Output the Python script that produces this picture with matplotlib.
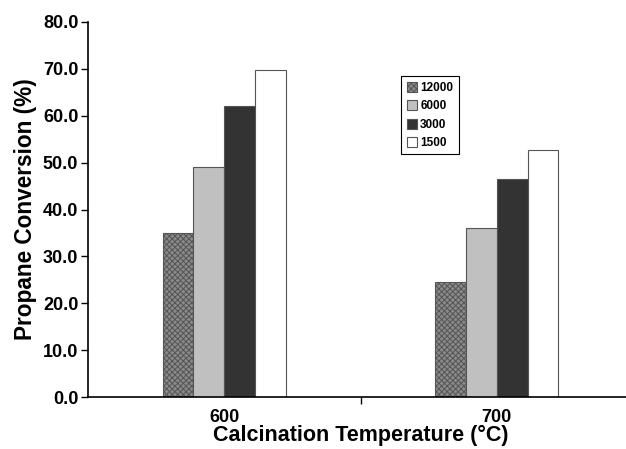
import numpy as np
import matplotlib.pyplot as plt

plt.rcParams['font.family'] = ['Liberation Sans', 'DejaVu Sans']
plt.rcParams['hatch.linewidth'] = 0.7

temps = ["600", "700"]
series = ["12000", "6000", "3000", "1500"]
conv_12000 = [35.0, 24.5]
conv_6000 = [49.0, 36.0]
conv_3000 = [62.0, 46.6]
conv_1500 = [69.7, 52.7]

values = [conv_12000, conv_6000, conv_3000, conv_1500]
faces = ["#8a8a8a", "#c0c0c0", "#333333", "#ffffff"]
hatches = ["xxxxxx", None, None, None]

fig = plt.figure(figsize=(6.26, 4.49), dpi=100)
ax = fig.add_axes([88 / 626, 52 / 449, 545 / 626, 375 / 449])

x = np.arange(len(temps))
w = 0.113
for i, (name, vals) in enumerate(zip(series, values)):
    ax.bar(x + (i - 1.5) * w, vals, w, color=faces[i], edgecolor="#555555",
           linewidth=0.8, hatch=hatches[i], label=name)

ax.set_xlim(-0.5, 1.5)
ax.set_ylim(0, 80)
ax.set_yticks(np.arange(0, 81, 10))
ax.set_yticklabels([f"{v:.1f}" for v in np.arange(0, 81, 10)])
ax.set_xticks(x)
ax.set_xticklabels(temps)
ax.set_xticks([0.5], minor=True)
ax.tick_params(axis="x", which="major", length=0, pad=9)
ax.tick_params(axis="x", which="minor", length=5, width=1)
ax.tick_params(axis="y", length=5, width=1, pad=2)
for lab in ax.get_xticklabels() + ax.get_yticklabels():
    lab.set_fontweight("bold")
    lab.set_fontsize(13)

ax.spines["top"].set_visible(False)
ax.spines["right"].set_visible(False)
ax.spines["left"].set_linewidth(1.2)
ax.spines["bottom"].set_linewidth(1.2)

ax.set_ylabel("Propane Conversion (%)", fontsize=16.3, fontweight="bold", labelpad=4)
ax.set_xlabel("Calcination Temperature (°C)", fontsize=15.5, fontweight="bold", labelpad=-1)

leg = ax.legend(loc="upper left", bbox_to_anchor=(0.575, 0.855), fancybox=False,
                edgecolor="black", prop={"weight": "bold", "size": 8.5},
                handlelength=0.9, handleheight=0.9, handletextpad=0.25,
                labelspacing=0.55, borderpad=0.45, borderaxespad=0, framealpha=1)
leg.get_frame().set_linewidth(0.8)

fig.savefig("out.png", dpi=100)
